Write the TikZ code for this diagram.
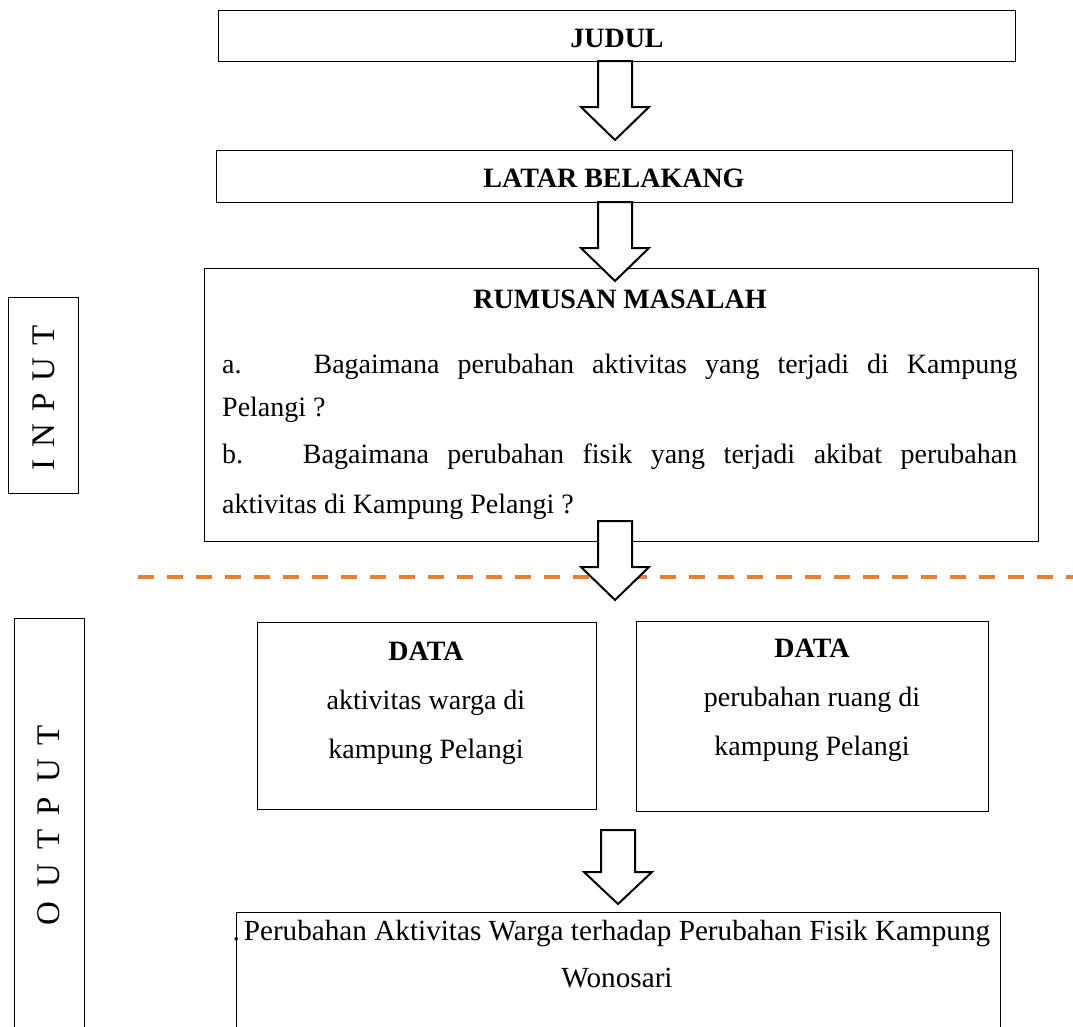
\documentclass[tikz,border=0pt]{standalone}
\usepackage{fontspec}
\setmainfont{Liberation Serif}
\definecolor{dashorange}{RGB}{237,125,49}
\newcommand\blockarrow[4]{% center x, shaft top, head top, tip
  \draw[barrow] (#1-17,#2) -- (#1+17,#2) -- (#1+17,#3) -- (#1+34,#3) -- (#1,#4) -- (#1-34,#3) -- (#1-17,#3) -- cycle;}
\begin{document}
\begin{tikzpicture}[x=1pt,y=-1pt,
  box/.style={draw=black, line width=1.3pt, fill=white, anchor=north west, inner sep=0pt},
  barrow/.style={draw=black, line width=2pt, fill=white, line join=miter},
  body/.style={font=\fontsize{28}{32}\selectfont, inner sep=0pt},
  bigbody/.style={font=\fontsize{29.2}{32}\selectfont, inner sep=0pt},
  bold/.style={font=\fontsize{28}{32}\selectfont\bfseries, inner sep=0pt},
  side/.style={font=\fontsize{33}{36}\selectfont, inner sep=0pt, rotate=90},
]
\useasboundingbox (0,0) rectangle (1073,1026);

% top boxes
\node[box, minimum width=797pt, minimum height=51pt] (judul) at (218,10) {};
\node[bold] (tjudul) at (617,38) {JUDUL};
\node[box, minimum width=796pt, minimum height=52pt] (latar) at (216,150) {};
\node[bold] (tlatar) at (614,178) {LATAR BELAKANG};

\blockarrow{615}{61}{107}{140}

% rumusan
\node[box, minimum width=834pt, minimum height=273pt] (rumusan) at (204,268) {};
\blockarrow{615}{202}{248}{281}
\node[bold, anchor=base] (trum) at (620,308) {RUMUSAN MASALAH};
\node[body, anchor=base west] (la) at (222,373) {\makebox[795pt][s]{a.\hspace{72pt}Bagaimana perubahan aktivitas yang terjadi di Kampung}};
\node[body, anchor=base west] (la2) at (222,416) {Pelangi ?};
\node[body, anchor=base west] (lb) at (222,463) {\makebox[795pt][s]{b.\hspace{16pt} Bagaimana perubahan fisik yang terjadi akibat perubahan}};
\node[body, anchor=base west] (lb2) at (222,513) {aktivitas di Kampung Pelangi ?};

% side labels
\node[box, minimum width=70pt, minimum height=196pt] (input) at (8,297) {};
\node[side] (tinput) at (44,398) {I\hspace{12pt}N\hspace{12pt}P\hspace{12pt}U\hspace{12pt}T};
\node[box, minimum width=70pt, minimum height=420pt] (output) at (14,618) {};
\node[side] (toutput) at (49,825) {O\hspace{14pt}U\hspace{14pt}T\hspace{14pt}P\hspace{14pt}U\hspace{14pt}T};

% dashed separator
\coordinate (dl) at (138,577);
\coordinate (dr) at (1073,577);
\draw[dashorange, line width=4pt, dash pattern=on 16pt off 13pt] (dl) -- (dr);

\blockarrow{615}{521}{567}{600}

% data boxes
\node[box, minimum width=339pt, minimum height=187pt] (data1) at (257,622) {};
\node[bold, anchor=base] (d1a) at (426,660) {DATA};
\node[body, anchor=base] (d1b) at (426,709) {aktivitas warga di};
\node[body, anchor=base] (d1c) at (426,758) {kampung Pelangi};
\node[box, minimum width=352pt, minimum height=190pt] (data2) at (636,621) {};
\node[bold, anchor=base] (d2a) at (812,657) {DATA};
\node[body, anchor=base] (d2b) at (812,706) {perubahan ruang di};
\node[body, anchor=base] (d2c) at (812,755) {kampung Pelangi};

\blockarrow{618}{830}{872}{904}

% final box
\node[box, minimum width=764pt, minimum height=130pt] (final) at (236,912) {};
\node[bigbody, anchor=base east] (dot) at (240,940) {.};
\node[bigbody, anchor=base] (f1) at (617,940) {Perubahan Aktivitas Warga terhadap Perubahan Fisik Kampung};
\node[bigbody, anchor=base] (f2) at (617,987) {Wonosari};
\end{tikzpicture}
\end{document}
